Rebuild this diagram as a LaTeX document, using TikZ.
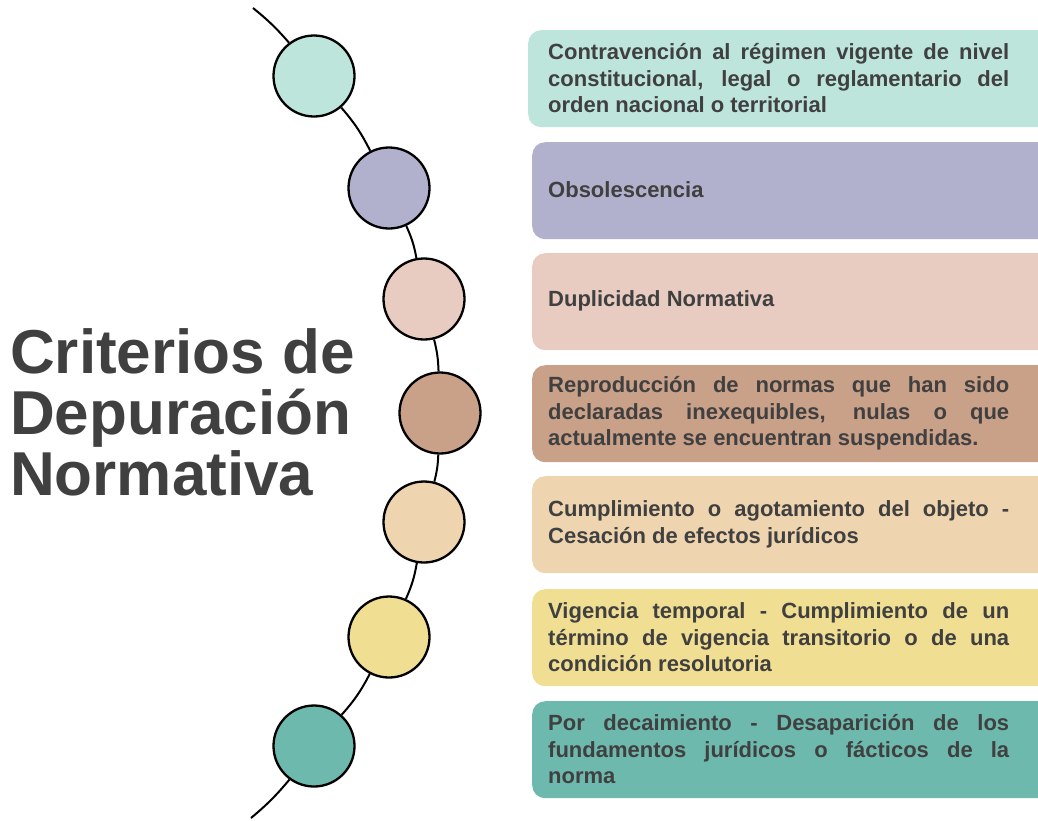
\documentclass[tikz,border=0pt]{standalone}
\usepackage{fontspec}
\setmainfont{Liberation Sans}
\definecolor{cmint}{HTML}{BDE5DC}
\definecolor{clav}{HTML}{B1B1CE}
\definecolor{cpink}{HTML}{E8CCC1}
\definecolor{cbrown}{HTML}{C9A088}
\definecolor{cpeach}{HTML}{EFD5AF}
\definecolor{cyellow}{HTML}{F0DE93}
\definecolor{cteal}{HTML}{6DB9AE}
\definecolor{ctext}{HTML}{404040}
\hyphenpenalty=10000
\exhyphenpenalty=10000
\tolerance=9999
\begin{document}
\begin{tikzpicture}[x=1pt,y=-1pt,
  dot/.style={circle, draw=black, line width=2.3pt, minimum size=81pt, inner sep=0pt},
  conn/.style={draw=black, line width=2pt},
  card/.style={rounded corners=13pt, minimum width=530pt, minimum height=97pt, anchor=north west, inner sep=0pt},
  cardtext/.style={text=ctext, text width=461pt, align=justify, inner sep=0pt, anchor=west,
    font=\bfseries\fontsize{22}{26.5}\selectfont},
  titletext/.style={text=ctext, inner sep=0pt, anchor=base west, font=\bfseries\fontsize{62}{62}\selectfont}
]
\useasboundingbox (0,0) rectangle (1038,820);
\fill[white] (0,0) rectangle (1038,820);
\clip (0,0) rectangle (1038,820);

% title
\node[titletext] (t1) at (10,373) {Criterios de};
\node[titletext] (t2) at (10,434) {Depuración};
\node[titletext] (t3) at (10,495) {Normativa};

% circles
\node[dot, fill=cmint]   (c1) at (314,76) {};
\node[dot, fill=clav]    (c2) at (389,188) {};
\node[dot, fill=cpink]   (c3) at (424,299) {};
\node[dot, fill=cbrown]  (c4) at (440,413) {};
\node[dot, fill=cpeach]  (c5) at (424,522) {};
\node[dot, fill=cyellow] (c6) at (389,637) {};
\node[dot, fill=cteal]   (c7) at (314,746) {};
\coordinate (top) at (253,8);
\coordinate (bot) at (251,818);

\draw[conn] (top) to[bend left=5] (c1);
\draw[conn] (c1) to[bend left=7] (c2);
\draw[conn] (c2) to[bend left=7] (c3);
\draw[conn] (c3) to[bend left=6] (c4);
\draw[conn] (c4) to[bend left=6] (c5);
\draw[conn] (c5) to[bend left=7] (c6);
\draw[conn] (c6) to[bend left=7] (c7);
\draw[conn] (c7) to[bend left=5] (bot);

% cards
\node[card, fill=cmint]   (b1) at (528,30) {};
\node[card, fill=clav]    (b2) at (532,142) {};
\node[card, fill=cpink]   (b3) at (532,253) {};
\node[card, fill=cbrown]  (b4) at (532,365) {};
\node[card, fill=cpeach]  (b5) at (532,476) {};
\node[card, fill=cyellow] (b6) at (532,589) {};
\node[card, fill=cteal]   (b7) at (532,701) {};

\node[cardtext] (l1) at (548,78.5) {Contravención al régimen vigente de nivel\linebreak constitucional, legal o reglamentario del\linebreak orden nacional o territorial};
\node[cardtext] (l2) at (548,190) {Obsolescencia};
\node[cardtext] (l3) at (548,301) {Duplicidad Normativa};
\node[cardtext] (l4) at (548,413.5) {Reproducción de normas que han sido\linebreak declaradas inexequibles, nulas o que\linebreak actualmente se encuentran suspendidas.};
\node[cardtext] (l5) at (548,524.5) {Cumplimiento o agotamiento del objeto -\linebreak Cesación de efectos jurídicos};
\node[cardtext] (l6) at (548,637.5) {Vigencia temporal - Cumplimiento de un\linebreak término de vigencia transitorio o de una\linebreak condición resolutoria};
\node[cardtext] (l7) at (548,749.5) {Por decaimiento - Desaparición de los\linebreak fundamentos jurídicos o fácticos de la\linebreak norma};
\end{tikzpicture}
\end{document}
